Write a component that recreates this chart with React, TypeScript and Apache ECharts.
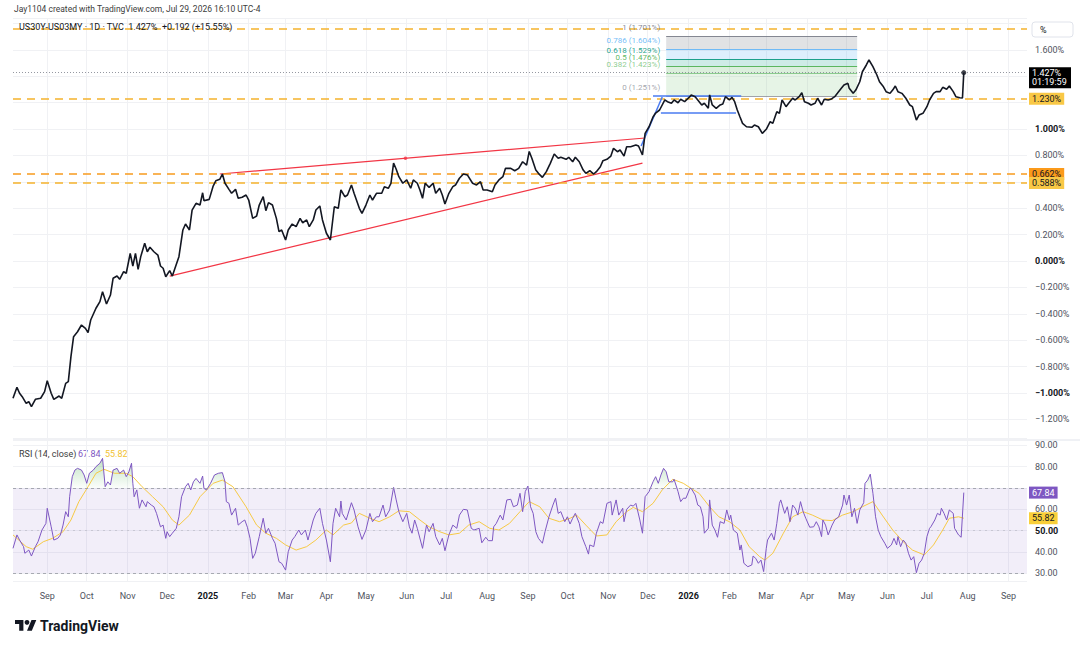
import React, { useEffect, useRef } from "react";
import * as echarts from "echarts";

const FONT = 'Roboto, "Noto Sans", "DejaVu Sans", sans-serif';
const DAY_MS = 86400000;
const BASE_UTC = Date.UTC(2025, 0, 1); // day 0 = 2025-01-01
const FIRST_DAY = -148;
const LAST_DAY = 622;
const MONTHS = ["Jan", "Feb", "Mar", "Apr", "May", "Jun", "Jul", "Aug", "Sep", "Oct", "Nov", "Dec"];

const HEADER_CREDIT = "Jay1104 created with TradingView.com, Jul 29, 2026 16:10 UTC-4";
const SYMBOL_TEXT = "US30Y-US03MY · 1D · TVC";
const COUNTDOWN = "01:19:59";

// [days from 2025-01-01, US30Y-US03MY spread %]
const PRICE: [number, number][] = [
  [-148, -1.04], [-145, -0.957], [-143, -1.002], [-141, -1.028], [-138, -1.078], [-136, -1.066],
  [-134, -1.104], [-131, -1.048], [-127, -1.04], [-124, -0.99], [-122, -0.907], [-119, -1.002],
  [-117, -1.048], [-113, -1.023], [-111, -1.04], [-108, -0.927], [-106, -0.914], [-104, -0.725],
  [-102, -0.573], [-99, -0.536], [-96, -0.485], [-93, -0.51], [-91, -0.543], [-89, -0.447],
  [-85, -0.358], [-82, -0.308], [-80, -0.233], [-77, -0.326], [-74, -0.258], [-72, -0.131],
  [-69, -0.114], [-67, -0.139], [-64, -0.081], [-62, -0.093], [-59, 0.058], [-57, -0.038],
  [-55, 0.058], [-53, -0.063], [-51, 0.033], [-48, 0.134], [-46, 0.07], [-44, 0.104],
  [-41, 0.07], [-38, 0.045], [-36, -0.038], [-34, -0.055], [-32, -0.119], [-29, -0.073],
  [-27, -0.114], [-25, -0.055], [-22, 0.033], [-19, 0.235], [-17, 0.28], [-14, 0.235],
  [-12, 0.386], [-9, 0.437], [-6, 0.424], [-4, 0.517], [-3, 0.457], [1, 0.467],
  [4, 0.568], [6, 0.608], [9, 0.619], [11, 0.659], [13, 0.589], [16, 0.543],
  [18, 0.513], [21, 0.543], [23, 0.475], [26, 0.483], [29, 0.5], [31, 0.462],
  [34, 0.323], [37, 0.341], [39, 0.424], [42, 0.487], [44, 0.381], [46, 0.442],
  [49, 0.424], [52, 0.323], [54, 0.222], [56, 0.235], [59, 0.159], [61, 0.235],
  [64, 0.28], [67, 0.26], [70, 0.323], [72, 0.29], [75, 0.311], [77, 0.26],
  [80, 0.311], [82, 0.386], [85, 0.417], [87, 0.311], [90, 0.21], [93, 0.159],
  [96, 0.411], [99, 0.399], [101, 0.538], [104, 0.487], [106, 0.5], [109, 0.576],
  [111, 0.513], [115, 0.399], [117, 0.361], [120, 0.424], [123, 0.5], [125, 0.462],
  [128, 0.513], [132, 0.513], [134, 0.563], [137, 0.551], [139, 0.589], [141, 0.742],
  [143, 0.695], [145, 0.639], [148, 0.589], [151, 0.614], [154, 0.551], [156, 0.614],
  [159, 0.589], [161, 0.538], [163, 0.475], [165, 0.589], [168, 0.558], [171, 0.589],
  [173, 0.513], [176, 0.551], [178, 0.5], [180, 0.432], [183, 0.513], [186, 0.563],
  [188, 0.576], [191, 0.627], [194, 0.659], [197, 0.652], [201, 0.589], [204, 0.576],
  [207, 0.601], [209, 0.538], [212, 0.538], [216, 0.525], [218, 0.576], [221, 0.614],
  [224, 0.639], [226, 0.702], [230, 0.702], [233, 0.684], [236, 0.702], [239, 0.752],
  [242, 0.727], [244, 0.83], [246, 0.778], [249, 0.689], [251, 0.664], [254, 0.634],
  [257, 0.677], [260, 0.74], [263, 0.811], [266, 0.778], [268, 0.786], [272, 0.77],
  [274, 0.786], [277, 0.752], [279, 0.786], [282, 0.752], [285, 0.689], [287, 0.664],
  [290, 0.684], [293, 0.659], [295, 0.677], [298, 0.714], [300, 0.76], [303, 0.77],
  [306, 0.795], [308, 0.854], [311, 0.828], [313, 0.841], [316, 0.795], [318, 0.866],
  [321, 0.866], [325, 0.879], [327, 0.871], [330, 0.803], [332, 0.967], [335, 1.017],
  [338, 1.091], [340, 1.121], [343, 1.144], [347, 1.22], [349, 1.207], [352, 1.195],
  [354, 1.22], [357, 1.199], [359, 1.225], [362, 1.207], [366, 1.245], [367, 1.258],
  [370, 1.245], [372, 1.22], [375, 1.182], [377, 1.195], [380, 1.157], [381, 1.258],
  [383, 1.182], [386, 1.157], [389, 1.182], [391, 1.189], [393, 1.245], [396, 1.22],
  [398, 1.24], [400, 1.207], [402, 1.144], [404, 1.093], [406, 1.043], [409, 1.017],
  [413, 1.013], [415, 1.03], [418, 1.017], [421, 0.967], [424, 0.998], [427, 1.055],
  [429, 1.043], [432, 1.131], [434, 1.119], [436, 1.22], [439, 1.169], [441, 1.195],
  [444, 1.233], [446, 1.22], [449, 1.245], [451, 1.275], [453, 1.207], [456, 1.195],
  [458, 1.182], [461, 1.195], [463, 1.233], [466, 1.182], [468, 1.225], [471, 1.22],
  [473, 1.225], [476, 1.245], [478, 1.27], [481, 1.308], [483, 1.333], [486, 1.346],
  [487, 1.308], [490, 1.27], [492, 1.295], [495, 1.358], [497, 1.434], [500, 1.485],
  [502, 1.523], [505, 1.472], [508, 1.409], [510, 1.358], [513, 1.32], [515, 1.283],
  [518, 1.27], [520, 1.295], [522, 1.326], [524, 1.283], [527, 1.27], [530, 1.233],
  [533, 1.182], [535, 1.169], [538, 1.068], [540, 1.106], [543, 1.119], [546, 1.169],
  [548, 1.22], [551, 1.27], [553, 1.283], [556, 1.283], [558, 1.316], [561, 1.301],
  [563, 1.326], [566, 1.283], [568, 1.245], [571, 1.237], [573, 1.235], [574, 1.427],
];

// [days from 2025-01-01, RSI(14)]
const RSI: [number, number][] = [
  [-148, 41.7], [-145, 48.0], [-143, 45.6], [-140, 42.5], [-139, 39.4], [-136, 40.9], [-134, 38.1],
  [-131, 42.5], [-129, 44.8], [-126, 50.3], [-123, 53.4], [-122, 60.5], [-119, 51.8], [-117, 45.6],
  [-114, 46.4], [-112, 48.0], [-110, 52.6], [-108, 58.9], [-106, 56.5], [-105, 65.9], [-103, 75.3],
  [-101, 78.4], [-99, 79.2], [-96, 78.4], [-94, 76.1], [-92, 72.2], [-90, 76.9], [-87, 78.4],
  [-85, 80.0], [-82, 81.6], [-80, 83.9], [-78, 70.6], [-76, 72.9], [-74, 71.4], [-72, 78.4],
  [-69, 79.2], [-67, 76.9], [-64, 78.4], [-62, 75.3], [-60, 77.6], [-58, 81.6], [-57, 72.2],
  [-56, 65.9], [-54, 69.1], [-52, 60.5], [-50, 64.4], [-47, 61.2], [-46, 63.6], [-43, 62.0],
  [-41, 61.2], [-39, 58.1], [-36, 51.8], [-34, 52.6], [-32, 46.4], [-31, 49.5], [-29, 47.2],
  [-27, 48.8], [-24, 51.1], [-22, 56.5], [-20, 65.9], [-17, 70.6], [-15, 72.2], [-13, 69.1],
  [-11, 72.9], [-9, 74.5], [-6, 72.2], [-4, 75.6], [-3, 69.8], [-1, 69.1], [2, 72.2],
  [5, 76.1], [8, 76.9], [11, 77.2], [13, 72.9], [14, 63.6], [16, 62.8], [18, 57.3],
  [21, 60.5], [23, 52.6], [26, 54.2], [28, 55.0], [30, 51.6], [32, 46.4], [34, 37.0],
  [36, 39.4], [39, 47.2], [42, 55.8], [44, 48.8], [46, 51.1], [49, 46.4], [51, 44.1],
  [54, 35.4], [56, 34.7], [59, 31.5], [61, 40.1], [64, 45.6], [66, 47.2], [69, 50.3],
  [71, 48.0], [74, 50.3], [76, 45.6], [80, 55.0], [82, 58.1], [85, 60.5], [87, 53.4],
  [90, 45.6], [93, 35.4], [95, 53.4], [97, 60.5], [100, 56.5], [101, 63.9], [102, 58.1],
  [105, 55.0], [109, 63.1], [111, 59.7], [114, 51.8], [117, 45.9], [120, 50.3], [123, 58.1],
  [125, 54.2], [128, 56.5], [130, 56.5], [133, 62.0], [135, 56.5], [138, 59.7], [141, 70.3],
  [143, 64.4], [145, 58.9], [148, 54.2], [151, 58.1], [153, 51.8], [155, 48.8], [157, 55.0],
  [159, 51.1], [163, 41.7], [166, 52.6], [168, 49.5], [171, 53.4], [173, 47.2], [176, 43.3],
  [178, 46.4], [180, 40.6], [183, 48.0], [186, 52.6], [189, 51.1], [191, 57.3], [194, 60.0],
  [197, 59.7], [200, 51.1], [202, 50.3], [206, 51.1], [208, 44.3], [211, 46.9], [213, 45.3],
  [216, 45.3], [217, 51.8], [219, 53.4], [222, 57.3], [224, 55.0], [227, 64.4], [230, 64.7],
  [232, 61.2], [235, 62.0], [237, 67.5], [239, 58.9], [241, 68.3], [243, 70.9], [245, 61.2],
  [247, 58.1], [249, 49.5], [251, 46.4], [254, 44.1], [256, 49.5], [259, 56.5], [262, 62.0],
  [264, 65.2], [266, 58.1], [268, 58.9], [271, 54.2], [273, 56.5], [275, 53.1], [277, 55.8],
  [279, 58.1], [282, 53.4], [284, 47.2], [287, 42.5], [289, 39.0], [290, 43.3], [293, 42.5],
  [295, 48.8], [298, 54.2], [300, 53.4], [303, 62.8], [306, 63.6], [307, 57.3], [310, 64.4],
  [312, 57.3], [315, 60.5], [316, 54.2], [318, 60.0], [321, 62.0], [323, 61.5], [325, 62.8],
  [328, 55.0], [330, 48.8], [332, 65.9], [335, 68.3], [338, 72.9], [340, 75.3], [342, 72.2],
  [344, 76.1], [346, 79.2], [348, 77.6], [350, 72.9], [353, 72.9], [354, 74.1], [357, 68.3],
  [359, 63.6], [361, 65.2], [363, 65.2], [366, 69.8], [367, 69.8], [370, 66.7], [372, 62.0],
  [374, 61.2], [376, 56.5], [377, 48.8], [380, 51.1], [381, 64.4], [383, 52.6], [385, 50.3],
  [387, 46.9], [389, 54.2], [392, 53.4], [394, 59.7], [396, 55.0], [397, 57.3], [399, 50.3],
  [402, 48.8], [404, 40.9], [405, 43.3], [407, 34.7], [410, 33.1], [413, 33.9], [414, 38.1],
  [416, 37.0], [418, 34.7], [420, 36.2], [422, 30.8], [424, 41.7], [425, 45.6], [428, 48.8],
  [430, 45.6], [432, 53.4], [434, 62.8], [435, 64.4], [438, 58.1], [440, 61.2], [442, 54.2],
  [444, 62.0], [446, 60.5], [448, 57.3], [450, 63.6], [452, 58.9], [454, 55.8], [457, 51.6],
  [460, 51.8], [462, 54.2], [464, 51.8], [466, 47.2], [467, 55.0], [469, 52.6], [471, 48.0],
  [474, 52.6], [476, 55.0], [479, 56.5], [482, 62.0], [483, 66.7], [485, 62.0], [487, 66.7],
  [489, 56.5], [491, 60.5], [493, 53.4], [495, 59.7], [498, 63.1], [499, 72.2], [501, 73.7],
  [503, 76.5], [505, 67.5], [507, 56.5], [509, 50.3], [511, 47.2], [514, 44.1], [516, 41.7],
  [519, 43.3], [521, 46.4], [523, 43.3], [524, 47.2], [526, 42.5], [528, 45.6], [530, 44.1],
  [532, 39.4], [534, 36.2], [536, 37.8], [538, 30.3], [540, 34.7], [542, 36.2], [544, 39.4],
  [546, 47.2], [548, 51.1], [549, 51.8], [552, 55.0], [554, 58.1], [556, 57.3], [557, 60.5],
  [559, 58.1], [561, 55.0], [563, 59.7], [566, 58.1], [567, 51.1], [570, 48.0], [572, 46.9],
  [574, 67.84],
];

// [days from 2025-01-01, RSI-based moving average]
const RSI_MA: [number, number][] = [
  [-148, 48.0], [-138, 42.5], [-133, 41.3], [-125, 44.8], [-118, 46.4], [-110, 49.5], [-104, 55.0],
  [-98, 63.6], [-91, 70.6], [-85, 76.9], [-79, 78.8], [-71, 76.9], [-62, 76.9], [-57, 75.3],
  [-50, 70.6], [-42, 65.9], [-34, 61.2], [-27, 55.0], [-22, 52.6], [-14, 57.3], [-6, 65.9],
  [4, 72.2], [11, 73.7], [19, 70.6], [29, 61.2], [37, 52.6], [44, 48.8], [52, 46.4],
  [59, 43.3], [67, 40.9], [75, 42.5], [82, 45.6], [90, 50.3], [95, 48.0], [103, 52.6],
  [109, 53.6], [115, 58.1], [123, 55.8], [130, 54.2], [138, 56.5], [145, 59.3], [153, 58.9],
  [161, 55.0], [168, 51.8], [176, 49.5], [183, 48.0], [191, 48.8], [198, 52.6], [206, 54.2],
  [214, 51.1], [221, 50.3], [229, 53.4], [237, 58.9], [244, 63.6], [252, 61.2], [259, 55.8],
  [267, 54.2], [275, 55.8], [280, 57.3], [287, 52.6], [295, 47.5], [303, 48.0], [310, 54.2],
  [318, 58.9], [323, 60.9], [330, 58.9], [338, 62.8], [345, 69.1], [353, 74.1], [361, 72.2],
  [368, 69.4], [373, 67.5], [381, 61.2], [388, 56.5], [396, 54.2], [404, 50.3], [411, 42.5],
  [419, 37.8], [423, 36.2], [429, 39.4], [437, 48.8], [444, 56.5], [452, 58.9], [459, 57.3],
  [467, 55.0], [474, 54.7], [482, 57.3], [490, 58.9], [497, 61.2], [505, 63.6], [512, 57.3],
  [520, 50.3], [528, 44.8], [535, 40.9], [544, 38.6], [551, 43.3], [558, 50.3], [563, 55.8],
  [570, 56.5], [574, 55.82],
];

// horizontal dashed levels (%), the first one carries no price tag
const DASHED_LEVELS = [1.765, 1.23, 0.662, 0.588];

// Fibonacci retracement
const FIB_DAYS = [348, 493];
const FIB_RATIOS = [0, 0.382, 0.5, 0.618, 0.786, 1];
const FIB_LEVELS = [1.251, 1.423, 1.476, 1.529, 1.604, 1.701];

// drawings: rising wedge and flag
const WEDGE_UPPER: [number, number][] = [[9, 0.659], [332, 0.932]];
const WEDGE_LOWER: [number, number][] = [[-29, -0.114], [330, 0.742]];
const WEDGE_ANCHOR: [number, number][] = [[150, 0.778]];
const FLAG_POLE: [number, number][] = [[329, 0.871], [345, 1.242]];
const FLAG_TOP: [number, number][] = [[338, 1.25], [405, 1.25]];
const FLAG_BOTTOM: [number, number][] = [[344, 1.121], [401, 1.121]];

// RSI guide levels
const RSI_BAND = [30, 70];
const RSI_MID = 50;

// axis ticks hidden behind the price / indicator tags
const HIDDEN_PCT_TICKS = [1.4, 1.2, 0.6];
const HIDDEN_RSI_TICKS = [70];

const FIB_COLORS = ["#787b86", "#81c784", "#4caf50", "#089981", "#64b5f6", "#787b86"];
const FIB_FILLS = [
  "rgba(129,199,132,0.2)",
  "rgba(76,175,80,0.2)",
  "rgba(8,153,129,0.2)",
  "rgba(100,181,246,0.22)",
  "rgba(120,123,134,0.22)",
];

const ds = (d: number) => new Date(BASE_UTC + d * DAY_MS).toISOString().slice(0, 10);
const toXY = (arr: [number, number][]) => arr.map(([d, v]) => [ds(d), v]);

const fmtSigned = (v: number, digits: number) => (v < 0 ? "\u2212" : "") + Math.abs(v).toFixed(digits);

let shapeRegistered = false;
function registerLogo() {
  if (shapeRegistered) return;
  shapeRegistered = true;
  try {
    echarts.graphic.registerShape(
      "tvLogo",
      echarts.graphic.extendPath("M14 22H7V11H0V4h14v18zM28 22h-8l7.5-18h8L28 22z", {}) as any
    );
  } catch (e) {
    /* ignore */
  }
}

function buildOption() {
  const categories: string[] = [];
  for (let d = FIRST_DAY; d <= LAST_DAY; d++) categories.push(ds(d));
  const isMonthStart = (_i: number, v: string) => typeof v === "string" && v.endsWith("-01");

  const last = PRICE[PRICE.length - 1];
  const prev = PRICE[PRICE.length - 2];
  const change = last[1] - prev[1];
  const changePct = (change / prev[1]) * 100;
  const rsiLast = RSI[RSI.length - 1][1];
  const maLast = RSI_MA[RSI_MA.length - 1][1];

  const tagBase = {
    show: true,
    position: "end",
    distance: 2,
    padding: [1, 3, 0, 3],
    lineHeight: 11,
    fontSize: 9,
    fontFamily: FONT,
  };
  const levelLines = DASHED_LEVELS.map((v, i) => {
    const orange = i === 2;
    const lineColor = orange ? "#f79a1e" : "#f5b22c";
    return {
      yAxis: v,
      lineStyle: { color: lineColor, type: [8, 6], width: 1.5 },
      label:
        i === 0
          ? { show: false }
          : { ...tagBase, formatter: v.toFixed(3) + "%", backgroundColor: orange ? "#fb9a1a" : "#f9c846", color: "#131722" },
    };
  });

  const lastPriceLine = {
    yAxis: last[1],
    lineStyle: { color: "#9598a1", type: [1, 2], width: 1 },
    label: {
      show: true,
      position: "end",
      distance: 2,
      fontFamily: FONT,
      formatter: `{h| }\n{a|${last[1].toFixed(3)}%}\n{b|${COUNTDOWN}}`,
      rich: {
        h: { height: 11, width: 36, fontSize: 9 },
        a: { backgroundColor: "#000", color: "#fff", fontSize: 9, width: 36, height: 10, lineHeight: 10, padding: [1, 3, 0, 3], fontFamily: FONT },
        b: { backgroundColor: "#000", color: "#fff", fontSize: 9, width: 36, height: 10, lineHeight: 10, padding: [0, 3, 1, 3], fontFamily: FONT },
      },
    },
  };

  // fib labels sit just above their level, to the left of the retracement box
  const fibLines = FIB_LEVELS.map((v, i) => [
    {
      coord: [ds(FIB_DAYS[0]), v],
      lineStyle: { color: FIB_COLORS[i], width: 1, type: "solid", opacity: i === 0 ? 0.7 : 0.9 },
      label: {
        show: true,
        position: "start",
        distance: 6,
        formatter: `{t|${FIB_RATIOS[i]} (${v.toFixed(3)}%)}\n{e| }`,
        rich: {
          t: { color: FIB_COLORS[i], fontSize: 8, fontFamily: FONT, lineHeight: 9, height: 9 },
          e: { fontSize: 8, lineHeight: 17, height: 17 },
        },
      },
    },
    { coord: [ds(FIB_DAYS[1]), v] },
  ]);

  const fibAreas = FIB_LEVELS.slice(0, -1).map((v, i) => [
    { coord: [ds(FIB_DAYS[0]), v], itemStyle: { color: FIB_FILLS[i] } },
    { coord: [ds(FIB_DAYS[1]), FIB_LEVELS[i + 1]] },
  ]);

  const gridLine = { lineStyle: { color: "#f0f1f4", width: 1 } };
  const xBase = {
    type: "category",
    data: categories,
    boundaryGap: false,
    axisLine: { show: false },
    axisTick: { show: false },
    splitLine: { show: true, interval: isMonthStart, ...gridLine },
  };

  const pctFormatter = (v: number) => {
    const k = Math.round(v * 5);
    if (Math.abs(v * 5 - k) > 1e-6 || v > 1.7) return "";
    const val = k / 5;
    if (HIDDEN_PCT_TICKS.some((h) => Math.abs(h - val) < 1e-6)) return "";
    const s = fmtSigned(val, 3) + "%";
    return k % 5 === 0 ? `{b|${s}}` : s;
  };
  const rsiFormatter = (v: number) => {
    const k = Math.round(v / 10);
    if (Math.abs(v / 10 - k) > 1e-6) return "";
    if (HIDDEN_RSI_TICKS.includes(k * 10)) return "";
    const s = (k * 10).toFixed(2);
    return k * 10 === RSI_MID ? `{b|${s}}` : s;
  };

  const invisibleLine = { color: "rgba(0,0,0,0)", width: 0 };
  const sign = change >= 0 ? "+" : "\u2212";

  return {
    animation: false,
    textStyle: { fontFamily: FONT },
    grid: [
      { left: 13, right: 53, top: 18, height: 420 },
      { left: 13, right: 53, top: 440, height: 141.2 },
    ],
    xAxis: [
      { ...xBase, gridIndex: 0, axisLabel: { show: false } },
      {
        ...xBase,
        gridIndex: 1,
        axisLabel: {
          show: true,
          interval: isMonthStart,
          margin: 10,
          fontSize: 9,
          color: "#50535e",
          fontFamily: FONT,
          formatter: (v: string) => {
            const [y, m] = v.split("-");
            return m === "01" ? `{y|${y}}` : MONTHS[Number(m) - 1];
          },
          rich: { y: { fontWeight: "bold", color: "#131722", fontSize: 9, fontFamily: FONT } },
        },
      },
    ],
    yAxis: [
      {
        type: "value",
        gridIndex: 0,
        position: "right",
        min: -1.341,
        max: 1.841,
        splitNumber: 16,
        axisLine: { show: false },
        axisTick: { show: false },
        splitLine: gridLine,
        axisLabel: {
          margin: 8,
          fontSize: 9,
          color: "#50535e",
          fontFamily: FONT,
          showMinLabel: false,
          showMaxLabel: false,
          formatter: pctFormatter,
          rich: { b: { fontWeight: "bold", color: "#131722", fontSize: 9, fontFamily: FONT } },
        },
      },
      {
        type: "value",
        gridIndex: 1,
        position: "right",
        min: 26.3,
        max: 92.5,
        splitNumber: 7,
        axisLine: { show: false },
        axisTick: { show: false },
        splitLine: gridLine,
        axisLabel: {
          margin: 8,
          fontSize: 9,
          color: "#50535e",
          fontFamily: FONT,
          showMinLabel: false,
          showMaxLabel: false,
          formatter: rsiFormatter,
          rich: { b: { fontWeight: "bold", color: "#131722", fontSize: 9, fontFamily: FONT } },
        },
      },
    ],
    series: [
      {
        name: "Spread",
        type: "line",
        xAxisIndex: 0,
        yAxisIndex: 0,
        data: toXY(PRICE),
        symbol: "none",
        clip: false,
        z: 6,
        lineStyle: { color: "#131722", width: 1.6 },
        markArea: { silent: true, data: fibAreas },
        markLine: {
          silent: true,
          symbol: ["none", "none"],
          label: { show: false },
          data: [...levelLines, lastPriceLine, ...fibLines],
        },
      },
      {
        name: "Wedge upper",
        type: "line",
        xAxisIndex: 0,
        yAxisIndex: 0,
        data: toXY(WEDGE_UPPER),
        symbol: "none",
        z: 4,
        lineStyle: { color: "#f23645", width: 1.2 },
      },
      {
        name: "Wedge lower",
        type: "line",
        xAxisIndex: 0,
        yAxisIndex: 0,
        data: toXY(WEDGE_LOWER),
        symbol: "none",
        z: 4,
        lineStyle: { color: "#f23645", width: 1.2 },
      },
      {
        name: "Wedge anchor",
        type: "scatter",
        xAxisIndex: 0,
        yAxisIndex: 0,
        data: toXY(WEDGE_ANCHOR),
        symbolSize: 3.5,
        z: 4,
        itemStyle: { color: "#f23645" },
      },
      ...[FLAG_POLE, FLAG_TOP, FLAG_BOTTOM].map((seg, i) => ({
        name: "Flag " + i,
        type: "line",
        xAxisIndex: 0,
        yAxisIndex: 0,
        data: toXY(seg),
        symbol: "none",
        z: 5,
        lineStyle: { color: "#4a7bf0", width: 1.5 },
      })),
      {
        name: "Last",
        type: "scatter",
        xAxisIndex: 0,
        yAxisIndex: 0,
        data: toXY([last]),
        symbolSize: 5,
        z: 7,
        itemStyle: { color: "#131722" },
      },
      {
        name: "Overbought fill",
        type: "line",
        xAxisIndex: 1,
        yAxisIndex: 1,
        data: RSI.map(([d, r]) => [ds(d), Math.max(r, RSI_BAND[1])]),
        symbol: "none",
        z: 2,
        lineStyle: { width: 0, opacity: 0 },
        areaStyle: {
          origin: RSI_BAND[1],
          color: new echarts.graphic.LinearGradient(0, 0, 0, 1, [
            { offset: 0, color: "rgba(76,175,80,0.5)" },
            { offset: 1, color: "rgba(76,175,80,0.03)" },
          ]),
        },
      },
      {
        name: "Oversold fill",
        type: "line",
        xAxisIndex: 1,
        yAxisIndex: 1,
        data: RSI.map(([d, r]) => [ds(d), Math.min(r, RSI_BAND[0])]),
        symbol: "none",
        z: 2,
        lineStyle: { width: 0, opacity: 0 },
        areaStyle: {
          origin: RSI_BAND[0],
          color: new echarts.graphic.LinearGradient(0, 0, 0, 1, [
            { offset: 0, color: "rgba(242,54,69,0.03)" },
            { offset: 1, color: "rgba(242,54,69,0.5)" },
          ]),
        },
      },
      {
        name: "RSI",
        type: "line",
        xAxisIndex: 1,
        yAxisIndex: 1,
        data: toXY(RSI),
        symbol: "none",
        z: 4,
        lineStyle: { color: "#7e57c2", width: 1 },
        markArea: {
          silent: true,
          data: [[{ yAxis: RSI_BAND[0], itemStyle: { color: "rgba(126,87,194,0.1)" } }, { yAxis: RSI_BAND[1] }]],
        },
        markLine: {
          silent: true,
          symbol: ["none", "none"],
          label: { show: false },
          data: [
            { yAxis: RSI_BAND[1], lineStyle: { color: "#9598a1", type: [3, 3], width: 1, opacity: 0.8 } },
            { yAxis: RSI_MID, lineStyle: { color: "#9598a1", type: [2, 4], width: 1, opacity: 0.35 } },
            { yAxis: RSI_BAND[0], lineStyle: { color: "#9598a1", type: [3, 3], width: 1, opacity: 0.8 } },
            {
              yAxis: rsiLast,
              lineStyle: invisibleLine,
              label: { ...tagBase, formatter: rsiLast.toFixed(2), backgroundColor: "#7e57c2", color: "#ffffff" },
            },
          ],
        },
      },
      {
        name: "RSI MA",
        type: "line",
        xAxisIndex: 1,
        yAxisIndex: 1,
        data: toXY(RSI_MA),
        symbol: "none",
        z: 3,
        lineStyle: { color: "#f6c945", width: 1 },
        markLine: {
          silent: true,
          symbol: ["none", "none"],
          data: [
            {
              yAxis: maLast,
              lineStyle: invisibleLine,
              label: { ...tagBase, formatter: maLast.toFixed(2), backgroundColor: "#f9cf3a", color: "#131722" },
            },
          ],
        },
      },
    ],
    graphic: [
      {
        type: "line",
        shape: { x1: 13, y1: 440, x2: 1080, y2: 440 },
        style: { stroke: "#e0e3eb", lineWidth: 1 },
        silent: true,
      },
      {
        type: "text",
        x: 14,
        y: 9,
        style: { text: HEADER_CREDIT, fontSize: 8.5, fontFamily: FONT, fill: "#3c3c3c", verticalAlign: "middle" },
      },
      {
        type: "text",
        x: 19,
        y: 27,
        z: 10,
        style: {
          text: `${SYMBOL_TEXT}  ${last[1].toFixed(3)}%  ${sign}${Math.abs(change).toFixed(3)} (${sign}${Math.abs(changePct).toFixed(2)}%)`,
          fontSize: 9,
          fontFamily: FONT,
          fill: "#131722",
          verticalAlign: "middle",
        },
      },
      {
        type: "rect",
        shape: { x: 1032, y: 22, width: 41, height: 15, r: 3 },
        style: { fill: "#ffffff", stroke: "#e0e3eb", lineWidth: 1 },
      },
      {
        type: "text",
        x: 1040,
        y: 29.5,
        style: { text: "%", fontSize: 9, fontFamily: FONT, fill: "#131722", verticalAlign: "middle" },
      },
      {
        type: "text",
        x: 19,
        y: 454,
        style: { text: "RSI (14, close)", fontSize: 9, fontFamily: FONT, fill: "#3c3c3c", verticalAlign: "middle" },
      },
      {
        type: "text",
        x: 78,
        y: 454,
        style: { text: rsiLast.toFixed(2), fontSize: 9, fontFamily: FONT, fill: "#7e57c2", verticalAlign: "middle" },
      },
      {
        type: "text",
        x: 105,
        y: 454,
        style: { text: maLast.toFixed(2), fontSize: 9, fontFamily: FONT, fill: "#f2c230", verticalAlign: "middle" },
      },
      {
        type: "tvLogo",
        x: 15,
        y: 617.5,
        scaleX: 0.6,
        scaleY: 0.6,
        style: { fill: "#131722" },
      },
      {
        type: "circle",
        shape: { cx: 15 + 20 * 0.6, cy: 617.5 + 8 * 0.6, r: 4 * 0.6 },
        style: { fill: "#131722" },
      },
      {
        type: "text",
        x: 40,
        y: 626,
        style: { text: "TradingView", fontSize: 14, fontWeight: "bold", fontFamily: FONT, fill: "#131722", verticalAlign: "middle" },
      },
    ],
  };
}

export default function App() {
  const ref = useRef<HTMLDivElement | null>(null);
  useEffect(() => {
    document.body.style.margin = "0";
    registerLogo();
    if (!ref.current) return;
    const chart = echarts.init(ref.current, undefined, { renderer: "svg" });
    chart.setOption(buildOption() as any);
    return () => chart.dispose();
  }, []);
  return <div ref={ref} style={{ width: 1080, height: 651, background: "#ffffff" }} />;
}
